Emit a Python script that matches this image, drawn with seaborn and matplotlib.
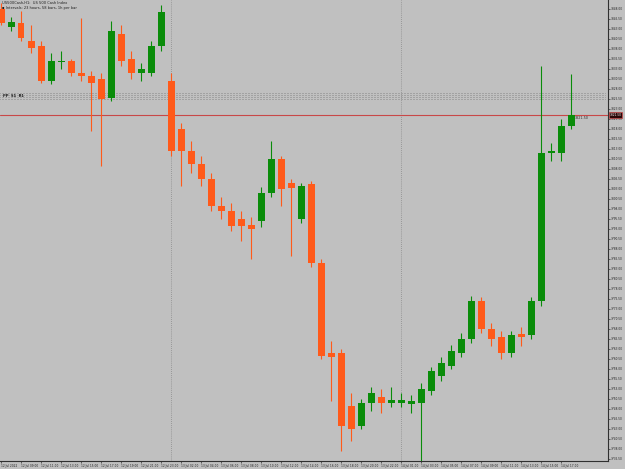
import numpy as np
import pandas as pd
import matplotlib
matplotlib.use("Agg")
import matplotlib.pyplot as plt
import seaborn as sns

# ---- data (H1 candles, 12-14 Jul) ----
opens = [3848.00, 3843.50, 3844.50, 3840.00, 3838.75, 3830.00, 3834.75, 3835.00, 3832.00, 3831.25,
         3830.50, 3825.75, 3841.75, 3835.50, 3832.00, 3832.00, 3838.75, 3830.00, 3818.00, 3812.50,
         3809.25, 3805.50, 3798.75, 3797.50, 3795.50, 3794.00, 3795.00, 3802.00, 3810.50, 3804.50,
         3795.50, 3804.25, 3784.50, 3762.00, 3762.00, 3748.75, 3743.75, 3749.50, 3751.00, 3749.50,
         3749.50, 3749.25, 3749.50, 3752.50, 3756.25, 3758.75, 3762.00, 3765.50, 3775.00, 3768.00,
         3766.00, 3762.00, 3766.75, 3766.50, 3775.00, 3812.00, 3812.00, 3818.75]
closes = [3844.50, 3844.75, 3840.75, 3838.25, 3830.00, 3835.00, 3835.00, 3832.00, 3831.25, 3829.50,
          3825.50, 3842.50, 3835.00, 3832.00, 3833.00, 3838.75, 3847.25, 3812.50, 3812.50, 3809.25,
          3805.50, 3798.75, 3797.50, 3793.75, 3793.75, 3793.00, 3802.00, 3810.50, 3803.00, 3803.25,
          3803.75, 3784.50, 3761.25, 3761.00, 3743.75, 3743.00, 3749.50, 3752.00, 3749.50, 3750.25,
          3750.25, 3750.00, 3753.00, 3757.50, 3759.50, 3762.50, 3765.50, 3775.00, 3768.00, 3765.50,
          3762.00, 3766.50, 3766.00, 3775.00, 3812.00, 3812.50, 3818.75, 3821.50]
highs = [3849.50, 3846.00, 3847.50, 3844.00, 3840.00, 3837.00, 3837.50, 3835.50, 3845.75, 3832.50,
         3832.00, 3845.00, 3844.00, 3837.50, 3834.50, 3840.00, 3849.00, 3832.00, 3819.50, 3815.00,
         3811.25, 3807.00, 3801.00, 3799.50, 3797.50, 3796.00, 3803.50, 3815.00, 3811.25, 3805.50,
         3804.50, 3805.00, 3785.50, 3765.00, 3763.00, 3752.00, 3750.50, 3753.50, 3753.00, 3753.50,
         3752.00, 3751.50, 3754.50, 3758.50, 3761.00, 3764.00, 3767.00, 3776.25, 3776.00, 3769.50,
         3767.50, 3767.50, 3768.50, 3776.00, 3833.75, 3814.50, 3820.50, 3831.75]
lows = [3844.00, 3842.50, 3840.00, 3837.00, 3829.50, 3829.25, 3833.00, 3831.25, 3830.00, 3817.50,
        3808.75, 3825.00, 3833.75, 3830.50, 3830.00, 3831.25, 3837.50, 3811.25, 3803.75, 3807.00,
        3803.75, 3797.50, 3795.50, 3792.50, 3790.00, 3785.50, 3793.50, 3801.00, 3798.75, 3786.25,
        3794.50, 3783.50, 3760.50, 3750.00, 3737.50, 3740.00, 3743.00, 3747.50, 3747.00, 3748.50,
        3748.50, 3747.00, 3735.00, 3751.50, 3755.00, 3758.00, 3761.00, 3764.50, 3767.00, 3763.75,
        3760.50, 3761.00, 3763.75, 3765.50, 3773.75, 3810.00, 3810.00, 3818.00]
time_labels = ["12 Jul 2022", "12 Jul 09:00", "12 Jul 11:00", "12 Jul 13:00", "12 Jul 15:00",
               "12 Jul 17:00", "12 Jul 19:00", "12 Jul 21:00", "12 Jul 23:00", "13 Jul 02:00",
               "13 Jul 04:00", "13 Jul 06:00", "13 Jul 08:00", "13 Jul 10:00", "13 Jul 12:00",
               "13 Jul 14:00", "13 Jul 16:00", "13 Jul 18:00", "13 Jul 20:00", "13 Jul 22:00",
               "14 Jul 01:00", "14 Jul 03:00", "14 Jul 05:00", "14 Jul 07:00", "14 Jul 09:00",
               "14 Jul 11:00", "14 Jul 13:00", "14 Jul 15:00", "14 Jul 17:00"]
day_starts = [17, 40]
band_levels = [3827.0, 3826.5, 3826.0, 3825.5]
bid_price = 3821.50
price_ticks = [3848.0 - 2.5 * k for k in range(46)]
title_line1 = "US500Cash,H1:  US 500 Cash Index"
title_line2 = "\u25aa Intervals: 23 hours, 58 bars, 1h per bar"

BG = "#c0c0c0"
UP = "#0a8c0a"
DN = "#ff5a1a"

sns.set_theme(style="white", rc={"axes.facecolor": BG, "figure.facecolor": BG})
plt.rcParams["font.family"] = ["DejaVu Sans"]

df = pd.DataFrame({"o": opens, "c": closes, "h": highs, "l": lows})
df["x"] = np.arange(len(df))
df["up"] = df["c"] >= df["o"]
df["col"] = np.where(df["up"], UP, DN)
df["bot"] = df[["o", "c"]].min(axis=1)
df["ht"] = (df["c"] - df["o"]).abs().clip(lower=0.25)

W, H = 625, 469
fig = plt.figure(figsize=(W / 100, H / 100), dpi=100)
ax = fig.add_axes([0, 8 / H, 608 / W, 461 / H])
ax.set_facecolor(BG)

# horizontal dotted band
for lv in band_levels:
    ax.axhline(lv, color="#7a7a7a", lw=0.6, ls=(0, (0.6, 1.2)), zorder=1, xmax=0.995)
ax.text(0.2, np.mean(band_levels), "PP  S1  R1", fontsize=2.6, fontweight="bold",
        color="#202020", va="center", ha="left", zorder=5)

# day separators
for d in day_starts:
    ax.axvline(d, color="#8a8a8a", lw=0.6, ls=(0, (1, 1.5)), zorder=1)

# candles
ax.vlines(df["x"], df["l"], df["h"], colors=df["col"], lw=0.8, zorder=3)
ax.bar(df["x"], df["ht"], bottom=df["bot"], width=0.7, color=df["col"], linewidth=0, zorder=4)

# bid line
ax.axhline(bid_price, color="#c84848", lw=0.8, zorder=2)
ax.text(57.4, bid_price - 0.2, f"{bid_price:.2f}", fontsize=2.4, color="#303030",
        va="top", ha="left", zorder=6)

ax.set_xlim(-0.1, 60.7)
ax.set_ylim(3735.0, 3850.25)

for s in ["top", "left"]:
    ax.spines[s].set_visible(False)
for s in ["right", "bottom"]:
    ax.spines[s].set_color("#303030")
    ax.spines[s].set_linewidth(0.8)

ax.yaxis.tick_right()
ax.set_yticks(price_ticks)
ax.set_yticklabels([f"{v:.2f}" for v in price_ticks])
ax.tick_params(axis="y", right=True, length=1.6, width=0.5, pad=0.6, labelsize=2.1,
               colors="#303030", labelcolor="#202020")

xt = list(range(0, 58, 2))
ax.set_xticks(xt)
ax.set_xticklabels(time_labels, ha="left")
ax.tick_params(axis="x", bottom=True, length=1.6, width=0.5, pad=0.5, labelsize=2.1,
               colors="#303030", labelcolor="#202020")

# price box on the axis
ax.annotate(f"{bid_price:.2f}", xy=(1.0, bid_price), xycoords=("axes fraction", "data"),
            xytext=(1.2, 0), textcoords="offset points", fontsize=2.1, color="white",
            va="center", ha="left",
            bbox=dict(boxstyle="square,pad=0.25", fc="#2a0808", ec="#c84848", lw=0.5),
            annotation_clip=False, zorder=10)

fig.text(2 / W, 1 - 3 / H, title_line1, fontsize=2.6, color="#202020", va="center", ha="left")
fig.text(2 / W, 1 - 8 / H, title_line2, fontsize=2.6, color="#202020", va="center", ha="left")

fig.savefig("out.png", dpi=100, facecolor=BG)
